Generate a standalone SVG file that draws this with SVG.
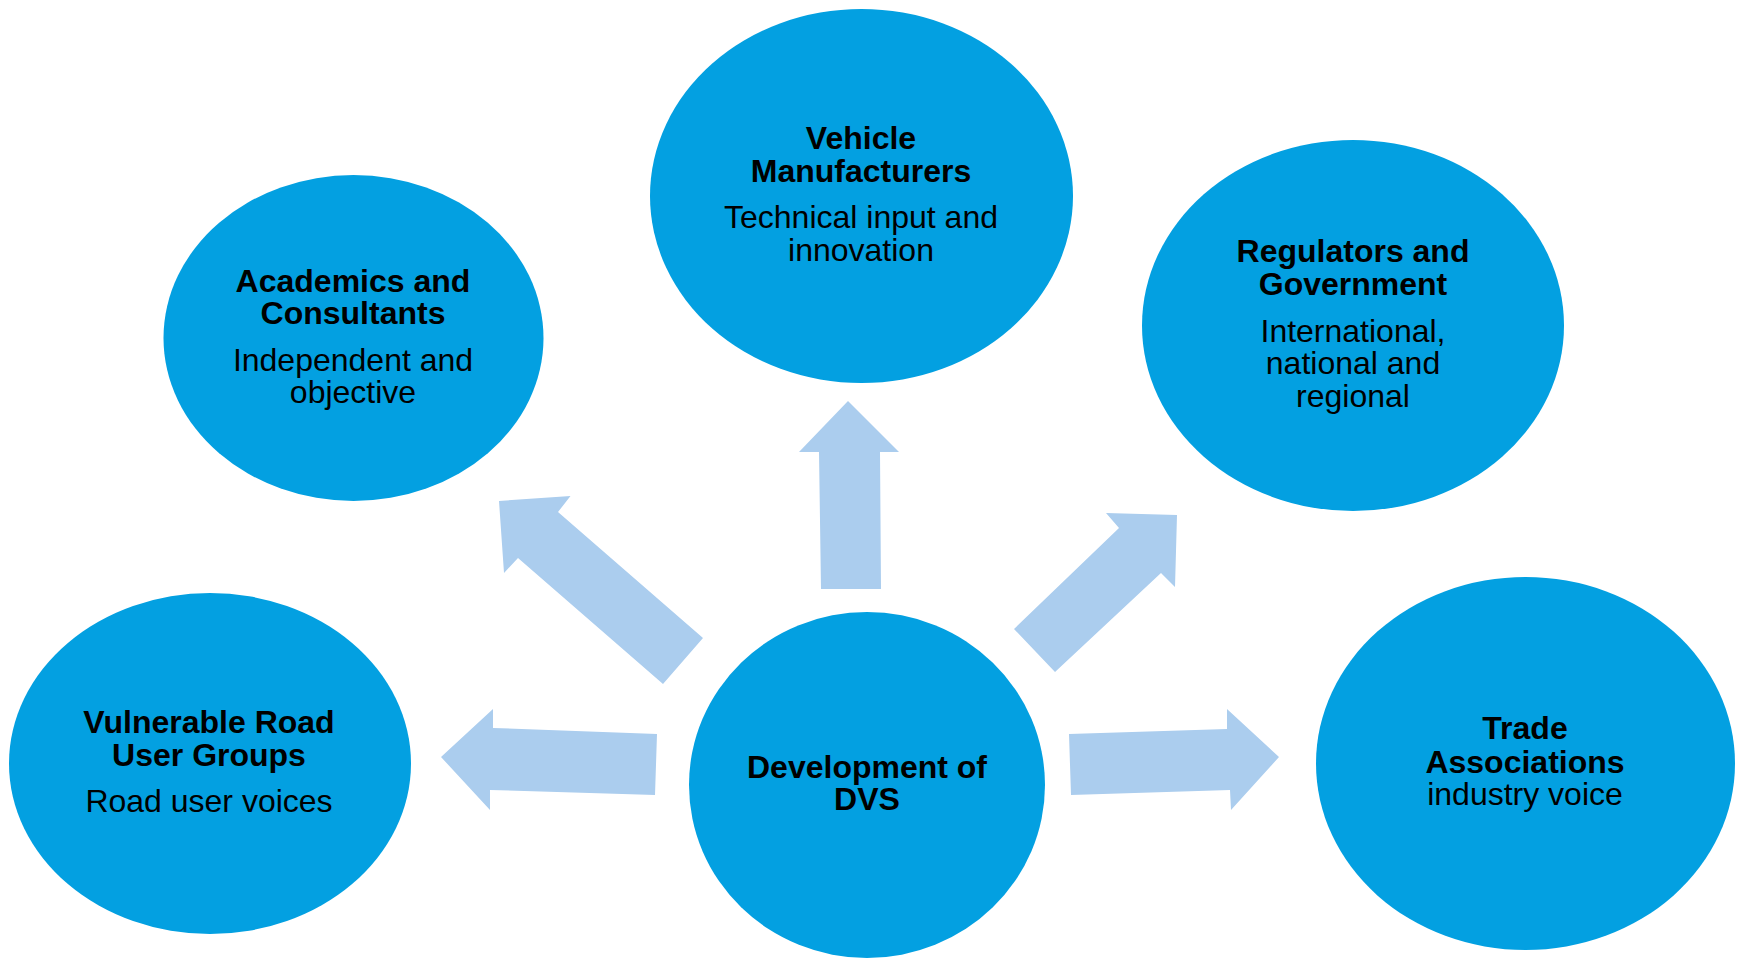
<svg xmlns="http://www.w3.org/2000/svg" width="1743" height="959" viewBox="0 0 1743 959">
<style>
.node{fill:#03A0E1;}
.arrow{fill:#ABCDEE;}
text{font-family:"Liberation Sans",Arial,sans-serif;font-size:32px;fill:#000;text-anchor:middle;}
.h{font-weight:bold;}
</style>
<rect width="1743" height="959" fill="#fff"/>
<g id="connectors">
<polygon class="arrow" points="821,589 819,452 799,452 848,401 899,452 880,452 881,589"/>
<polygon class="arrow" points="663,684 518,558 504,573 499,501 570.5,496 558,512 703,638"/>
<polygon class="arrow" points="657,734 493,728 493,709 441,757 490,810 490,790 655,795"/>
<polygon class="arrow" points="1014,629 1119,528 1106,513 1177,515 1175,587 1161,573 1055,672"/>
<polygon class="arrow" points="1069,734 1227,729 1227,709 1279,757 1231,810 1230,790 1071,795"/>
</g>
<g id="vehicle">
<ellipse class="node" cx="861.5" cy="196" rx="211.5" ry="187"/>
<text class="h" x="861" y="149">Vehicle</text>
<text class="h" x="861" y="182">Manufacturers</text>
<text x="861" y="228">Technical input and</text>
<text x="861" y="261">innovation</text>
</g>
<g id="academics">
<ellipse class="node" cx="353.5" cy="338" rx="190" ry="163"/>
<text class="h" x="353" y="292">Academics and</text>
<text class="h" x="353" y="324">Consultants</text>
<text x="353" y="371">Independent and</text>
<text x="353" y="403">objective</text>
</g>
<g id="regulators">
<ellipse class="node" cx="1353" cy="325.5" rx="211" ry="185.5"/>
<text class="h" x="1353" y="262">Regulators and</text>
<text class="h" x="1353" y="295">Government</text>
<text x="1353" y="342">International,</text>
<text x="1353" y="374">national and</text>
<text x="1353" y="407">regional</text>
</g>
<g id="vulnerable">
<ellipse class="node" cx="210" cy="763.5" rx="201" ry="170.5"/>
<text class="h" x="209" y="733">Vulnerable Road</text>
<text class="h" x="209" y="766">User Groups</text>
<text x="209" y="812">Road user voices</text>
</g>
<g id="development">
<ellipse class="node" cx="867" cy="785" rx="178" ry="173"/>
<text class="h" x="867" y="778">Development of</text>
<text class="h" x="867" y="810">DVS</text>
</g>
<g id="trade">
<ellipse class="node" cx="1525.5" cy="763.5" rx="209.5" ry="186.5"/>
<text class="h" x="1525" y="739">Trade</text>
<text class="h" x="1525" y="773">Associations</text>
<text x="1525" y="805">industry voice</text>
</g>
</svg>
